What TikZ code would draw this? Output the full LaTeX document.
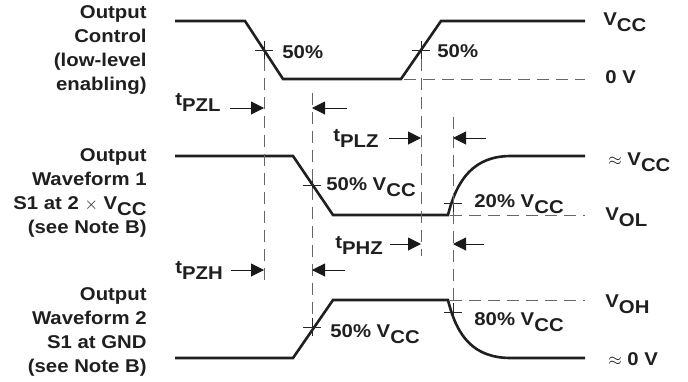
\documentclass[tikz,border=0pt]{standalone}
\usepackage{fontspec}
\setmainfont{Liberation Sans}[FakeStretch=1.1]
\usetikzlibrary{arrows.meta}
\tikzset{every picture/.style={line width=0.75pt}}
\newcommand{\lowsub}[1]{\raisebox{-6pt}{#1}}

\begin{document}
\begin{tikzpicture}[x=1pt,y=1pt,yscale=-1,
  wave/.style={line width=2.6pt, color=black!88},
  guide/.style={line width=1pt, color=black!60, dash pattern=on 12pt off 7pt},
  cross/.style={line width=1pt, color=black!85},
  timing/.style={line width=1pt, color=black!90, -{Triangle[length=13pt,width=13pt]}},
  lbl/.style={inner sep=0pt, font=\fontsize{18.5}{24}\selectfont\bfseries, text=black!88}]
\useasboundingbox (0,0) rectangle (688,381);

%Waveforms
\draw [wave] (175,21) -- (245,21) -- (283,79) -- (401,79) -- (441,21) -- (585,21) ;
\draw [wave] (175,156) -- (293,156) -- (333,215) -- (448,215) .. controls (457,179) and (474,156) .. (511,156) -- (585,156) ;
\draw [wave] (175,358) -- (293,358) -- (333,300) -- (448,300) .. controls (457,337) and (474,358) .. (511,358) -- (585,358) ;

%Reference points
\coordinate (c50a) at (264,50);
\coordinate (c50b) at (421,50);
\coordinate (c50c) at (312,185);
\coordinate (c20) at (453,203);
\coordinate (c50d) at (312,327);
\coordinate (c80) at (453,312);

%Crosses
\foreach \p in {c50a,c50b,c50c,c20,c50d,c80}
  \draw [cross] ([xshift=-9pt]\p) -- ([xshift=9pt]\p) ([yshift=-9pt]\p) -- ([yshift=9pt]\p) ;

%Dashed Lines
\draw [guide] (264,59) -- (264,283) ;
\draw [guide] (421,59) -- (421,256) ;
\draw [guide] (312,93) -- (312,318) ;
\draw [guide] (453,117) -- (453,303) ;
\draw [guide] (404,79) -- (585,79) ;
\draw [guide] (450,215) -- (585,215) ;
\draw [guide] (450,300) -- (585,300) ;

%Timing arrows
\coordinate (pzlL) at (264,108);
\coordinate (pzlR) at (312,108);
\coordinate (plzL) at (421,138);
\coordinate (plzR) at (453,138);
\coordinate (phzL) at (421,244);
\coordinate (phzR) at (453,244);
\coordinate (pzhL) at (264,270);
\coordinate (pzhR) at (312,270);
\draw [timing] ([xshift=-34pt]pzlL) -- (pzlL) ;
\draw [timing] ([xshift=35pt]pzlR) -- (pzlR) ;
\draw [timing] ([xshift=-32pt]plzL) -- (plzL) ;
\draw [timing] ([xshift=33pt]plzR) -- (plzR) ;
\draw [timing] ([xshift=-31pt]phzL) -- (phzL) ;
\draw [timing] ([xshift=31pt]phzR) -- (phzR) ;
\draw [timing] ([xshift=-33pt]pzhL) -- (pzhL) ;
\draw [timing] ([xshift=33pt]pzhR) -- (pzhR) ;

% Text Node
\draw (175,105) node [anchor=base west][lbl] (tpzl) {t\lowsub{PZL}};
% Text Node
\draw (333,141) node [anchor=base west][lbl] (tplz) {t\lowsub{PLZ}};
% Text Node
\draw (335,248) node [anchor=base west][lbl] (tphz) {t\lowsub{PHZ}};
% Text Node
\draw (175,273) node [anchor=base west][lbl] (tpzh) {t\lowsub{PZH}};

% Text Node
\draw (282,58) node [anchor=base west][lbl] (p50a) {50\%};
% Text Node
\draw (437,57) node [anchor=base west][lbl] (p50b) {50\%};
% Text Node
\draw (326,190) node [anchor=base west][lbl] (p50c) {50\% V\lowsub{CC}};
% Text Node
\draw (474,207) node [anchor=base west][lbl] (p20) {20\% V\lowsub{CC}};
% Text Node
\draw (330,337) node [anchor=base west][lbl] (p50d) {50\% V\lowsub{CC}};
% Text Node
\draw (474,325) node [anchor=base west][lbl] (p80) {80\% V\lowsub{CC}};

% Text Node
\draw (603,25) node [anchor=base west][lbl] (vcc) {V\lowsub{CC}};
% Text Node
\draw (605,83) node [anchor=base west][lbl] (zero) {0 V};
% Text Node
\draw (608,165) node [anchor=base west][lbl] (avcc) {$\approx$ V\lowsub{CC}};
% Text Node
\draw (605,220) node [anchor=base west][lbl] (vol) {V\lowsub{OL}};
% Text Node
\draw (605,307) node [anchor=base west][lbl] (voh) {V\lowsub{OH}};
% Text Node
\draw (608,365) node [anchor=base west][lbl] (azero) {$\approx$ 0 V};

% Text Node
\draw (147,90) node [anchor=base east][lbl][align=right] (ctl) {Output\\Control\\(low-level\\enabling)};
% Text Node
\draw (147,233) node [anchor=base east][lbl][align=right] (wf1) {Output\\Waveform 1\\S1 at 2 $\times$ V\lowsub{CC}\\(see Note B)};
% Text Node
\draw (147,372) node [anchor=base east][lbl][align=right] (wf2) {Output\\Waveform 2\\S1 at GND\\(see Note B)};

\end{tikzpicture}
\end{document}
